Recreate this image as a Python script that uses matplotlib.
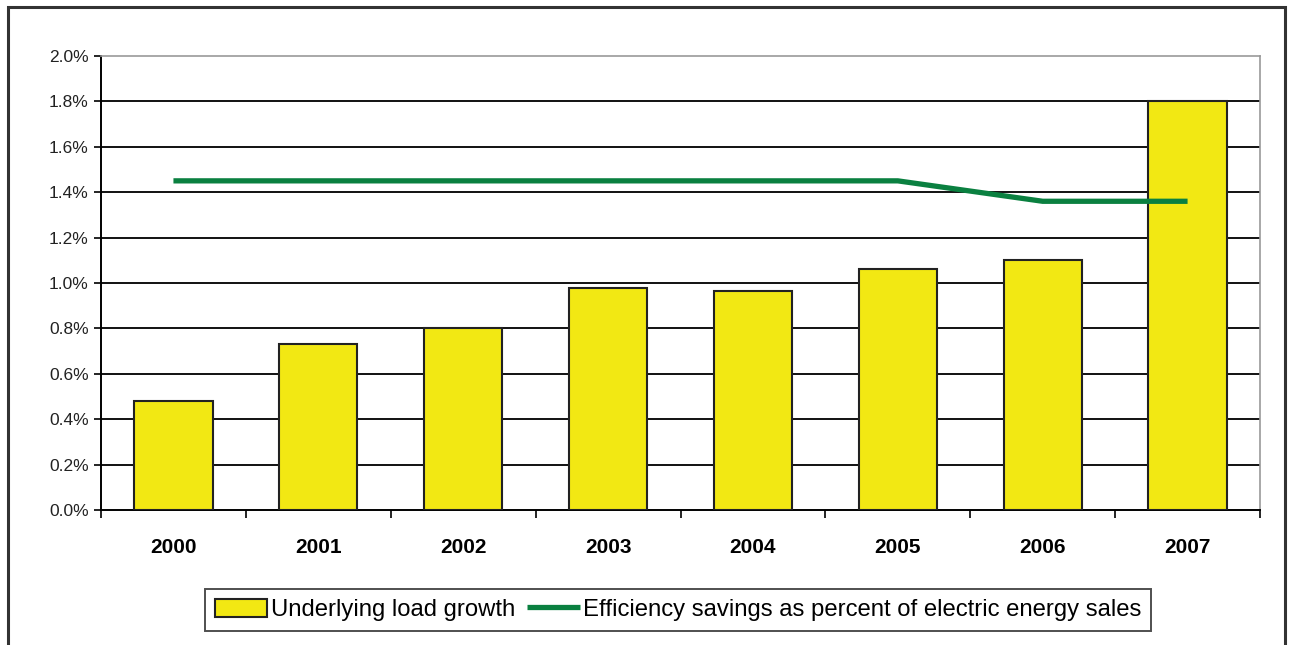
import matplotlib.pyplot as plt
from matplotlib.patches import Rectangle
import numpy as np

years = ["2000", "2001", "2002", "2003", "2004", "2005", "2006", "2007"]
load_growth = [0.48, 0.73, 0.80, 0.98, 0.965, 1.06, 1.10, 1.80]
efficiency = [1.45, 1.45, 1.45, 1.45, 1.45, 1.45, 1.36, 1.36]
yticks = [0.0, 0.2, 0.4, 0.6, 0.8, 1.0, 1.2, 1.4, 1.6, 1.8, 2.0]

plt.rcParams['font.family'] = ['Liberation Sans', 'DejaVu Sans']

fig = plt.figure(figsize=(12.91, 6.45), dpi=100)
ax = fig.add_axes([101 / 1291, 1 - 510 / 645, (1260 - 101) / 1291, (510 - 56) / 645])

# outer frame of the chart
fig.patches.append(Rectangle((8 / 1291, -0.05), (1285 - 8) / 1291, 1.05 - 7 / 645,
                             transform=fig.transFigure, fill=False,
                             edgecolor="#333333", linewidth=2.2))

x = np.arange(len(years))
bars = ax.bar(x, load_growth, width=0.54, color="#F2E813", edgecolor="#222222",
              linewidth=1.5, zorder=3)
line, = ax.plot(x, efficiency, color="#0A8040", linewidth=3.8, solid_capstyle="butt",
                zorder=4)

ax.set_xlim(-0.5, len(years) - 0.5)
ax.set_ylim(0, 2.0)
ax.set_yticks(yticks)
ax.set_yticklabels([f"{v:.1f}%" for v in yticks], fontsize=12.5, color="#222222")
ax.set_xticks(x)
ax.set_xticklabels(years, fontsize=15, fontweight="bold")
ax.tick_params(axis="x", which="major", length=0, pad=20)
ax.set_xticks(np.arange(-0.5, len(years)), minor=True)
ax.tick_params(axis="x", which="minor", length=6, width=1.2, direction="out")
ax.tick_params(axis="y", length=5, width=1.2, direction="out", pad=4)

for v in yticks[1:-1]:
    ax.axhline(v, color="#111111", linewidth=1.4, zorder=1)

ax.spines["left"].set_linewidth(1.4)
ax.spines["bottom"].set_linewidth(1.4)
ax.spines["top"].set_color("#999999")
ax.spines["right"].set_color("#999999")
ax.spines["top"].set_linewidth(1.2)
ax.spines["right"].set_linewidth(1.2)

leg = ax.legend([bars, line],
                ["Underlying load growth",
                 "Efficiency savings as percent of electric energy sales"],
                loc="center", bbox_to_anchor=(0.498, -0.22), ncol=2, frameon=True,
                fancybox=False, edgecolor="#222222", fontsize=17.2,
                handlelength=2.2, handleheight=0.8, handletextpad=0.15,
                columnspacing=0.5, borderpad=0.4)
leg.get_frame().set_linewidth(1.4)

fig.savefig("out.png", dpi=100)
